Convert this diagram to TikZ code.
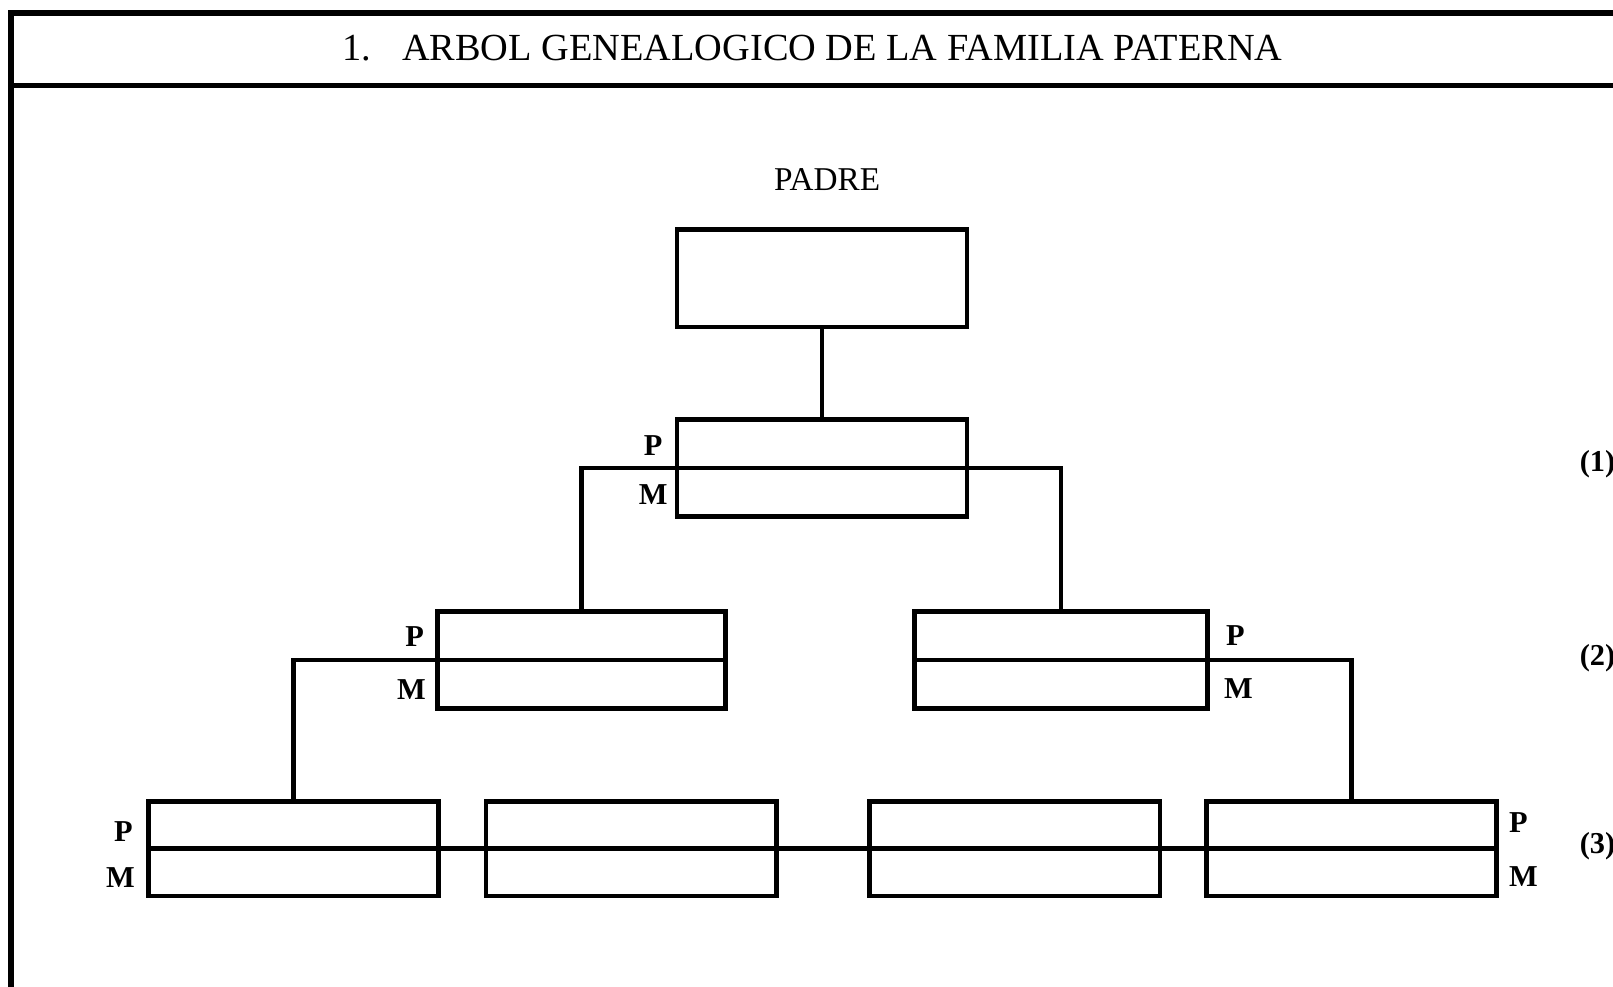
\documentclass[tikz,border=0pt]{standalone}
\usepackage{fontspec}
\setmainfont{Liberation Serif}
\usepackage{tikz}

\begin{document}
\begin{tikzpicture}[%
  famBox/.style={draw, rectangle, line width=1.3pt, inner sep=0pt,
    minimum width=2.82cm, minimum height=0.94cm},
  famLine/.style={line width=1.3pt},
  pmLabel/.style={font=\fontsize{8.4}{10}\selectfont\bfseries, inner sep=0pt},
  scale=1.0,
]

  \useasboundingbox (0,0.28) rectangle (15.68,9.87);

  % frame and heading
  \draw[line width=1.6pt] (0.11,-0.5) -- (0.11,9.74) -- (16.6,9.74);
  \draw[line width=1.4pt] (0.11,9.04) -- (16.6,9.04);
  \node[font=\fontsize{10.6}{12}\selectfont] (title) at (7.90,9.40)
    {1.\hspace{0.8em}ARBOL GENEALOGICO DE LA FAMILIA PATERNA};

  % boxes
  \node[font=\fontsize{9.2}{11}\selectfont] (padreLbl) at (8.04,8.12) {PADRE};
  \node[famBox, minimum height=0.95cm] (padre) at (7.99,7.165) {};
  \node[famBox] (g1) at (7.99,5.32) {};
  \node[famBox, minimum width=2.80cm] (g2l) at (5.65,3.455) {};
  \node[famBox, minimum width=2.85cm] (g2r) at (10.315,3.455) {};
  \node[famBox, minimum height=0.92cm] (g3a) at (2.855,1.62) {};
  \node[famBox, minimum height=0.92cm] (g3b) at (6.135,1.62) {};
  \node[famBox, minimum height=0.92cm] (g3c) at (9.865,1.62) {};
  \node[famBox, minimum height=0.92cm] (g3d) at (13.14,1.62) {};

  % connectors
  \draw[famLine] (padre) -- (g1);
  \draw[famLine] (g2l.north) |- (g1.center) -| (g2r.north);
  \draw[famLine] (g2l.east) -| (g3a.north);
  \draw[famLine] (g2r.west) -| (g3d.north);
  \draw[famLine] (g3a.west) -- (g3d.east);

  % P / M labels
  \node[pmLabel] (p1) at (6.35,5.54) {P};
  \node[pmLabel] (m1) at (6.35,5.06) {M};
  \node[pmLabel] (p2l) at (4.03,3.68) {P};
  \node[pmLabel] (m2l) at (4.00,3.17) {M};
  \node[pmLabel] (p2r) at (12.01,3.69) {P};
  \node[pmLabel] (m2r) at (12.04,3.18) {M};
  \node[pmLabel] (p3l) at (1.20,1.79) {P};
  \node[pmLabel] (m3l) at (1.17,1.34) {M};
  \node[pmLabel] (p3r) at (14.76,1.87) {P};
  \node[pmLabel] (m3r) at (14.81,1.35) {M};

  % generation numbers
  \node[pmLabel, anchor=west] (gen1) at (15.35,5.36) {(1)};
  \node[pmLabel, anchor=west] (gen2) at (15.35,3.47) {(2)};
  \node[pmLabel, anchor=west] (gen3) at (15.35,1.64) {(3)};

\end{tikzpicture}
\end{document}
